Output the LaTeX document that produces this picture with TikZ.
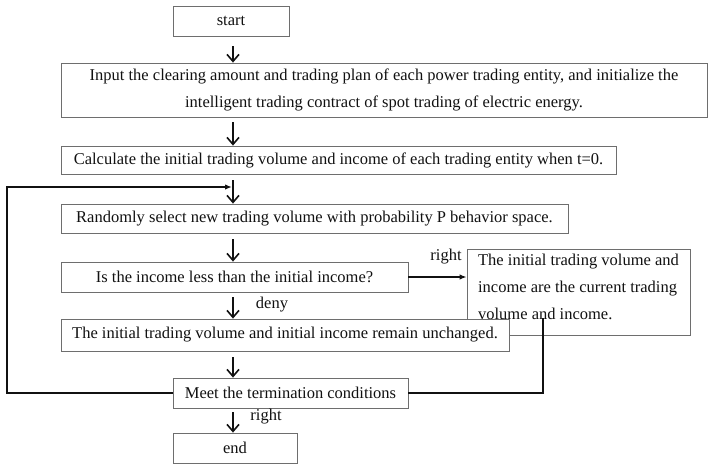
\documentclass[tikz,border=0pt]{standalone}
\usepackage{fontspec}
\setmainfont{Liberation Serif}
\usetikzlibrary{arrows.meta, calc, positioning}
\definecolor{Frame}{HTML}{6E6E6E}
\definecolor{Ink}{HTML}{111111}

\begin{document}
\begin{tikzpicture}[
  x=1pt, y=-1pt,
  font=\fontsize{16.5}{27}\selectfont,
  box/.style={
    draw=Frame,
    fill=white,
    line width=0.8pt,
    inner sep=0pt,
    text=Ink,
    align=center
  },
  flow/.style={
    -{Straight Barb[length=7pt,width=12pt,line width=1.6pt]},
    line width=1.8pt,
    draw=Ink
  },
  side/.style={
    -{Latex[length=7pt,width=5.5pt]},
    line width=1.8pt,
    draw=Ink
  },
  tag/.style={
    text=Ink,
    inner sep=0pt
  }
]

\useasboundingbox (0,0) rectangle (709,464);

\node[box, minimum width=116, minimum height=30] (start) at (231,21) {start};
\node[box, minimum width=646, minimum height=54] (input) at (384,90)
  {Input the clearing amount and trading plan of each power trading entity, and initialize the\\
   intelligent trading contract of spot trading of electric energy.};
\node[box, minimum width=555, minimum height=28] (calc) at (338.5,160)
  {Calculate the initial trading volume and income of each trading entity when t=0.};
\node[box, minimum width=507, minimum height=29] (rand) at (314.5,218.5)
  {Randomly select new trading volume with probability P behavior space.};
\node[box, minimum width=347, minimum height=30] (less) at (234.5,277)
  {Is the income less than the initial income?};
\node[box, minimum width=223, minimum height=86, align=left] (cur) at (578.5,292)
  {\raisebox{1pt}[0pt][0pt]{\begin{tabular}{@{}l@{}}The initial trading volume and\\
   income are the current trading\\
   volume and income.\end{tabular}}};
\node[box, minimum width=448, minimum height=32] (keep) at (285,335)
  {The initial trading volume and initial income remain unchanged.};
\node[box, minimum width=235, minimum height=30] (meet) at (290.5,393)
  {Meet the termination conditions};
\node[box, minimum width=124, minimum height=30] (end) at (235,448) {end};

\coordinate (col) at (233,0);
\coordinate (loopin) at (232,187);
\coordinate (drop) at (543,318);

% main column
\draw[flow, shorten <=10pt] (start.south -| col) -- (input.north -| col);
\draw[flow, shorten <=5pt] (input.south -| col) -- (calc.north -| col);
\draw[flow, shorten <=6pt] (calc.south -| col) -- (rand.north -| col);
\draw[flow, shorten <=6pt] (rand.south -| col) -- (less.north -| col);
\draw[flow, shorten <=5pt] (less.south -| col) -- (keep.north -| col);
\draw[flow, shorten <=6pt] (keep.south -| col) -- (meet.north -| col);
\draw[flow, shorten <=4pt] (meet.south -| col) -- (end.north -| col);

% branches
\draw[side] (less.east) -- (cur.west |- less.east);
\draw[line width=1.8pt, draw=Ink] (drop) |- (meet.east);
\draw[side] (meet.west) -| (7,187) -- (loopin);

\node[tag] (yes1) at (446,257) {right};
\node[tag] (no1) at (272,305) {deny};
\node[tag] (yes2) at (266,417) {right};

\end{tikzpicture}
\end{document}
